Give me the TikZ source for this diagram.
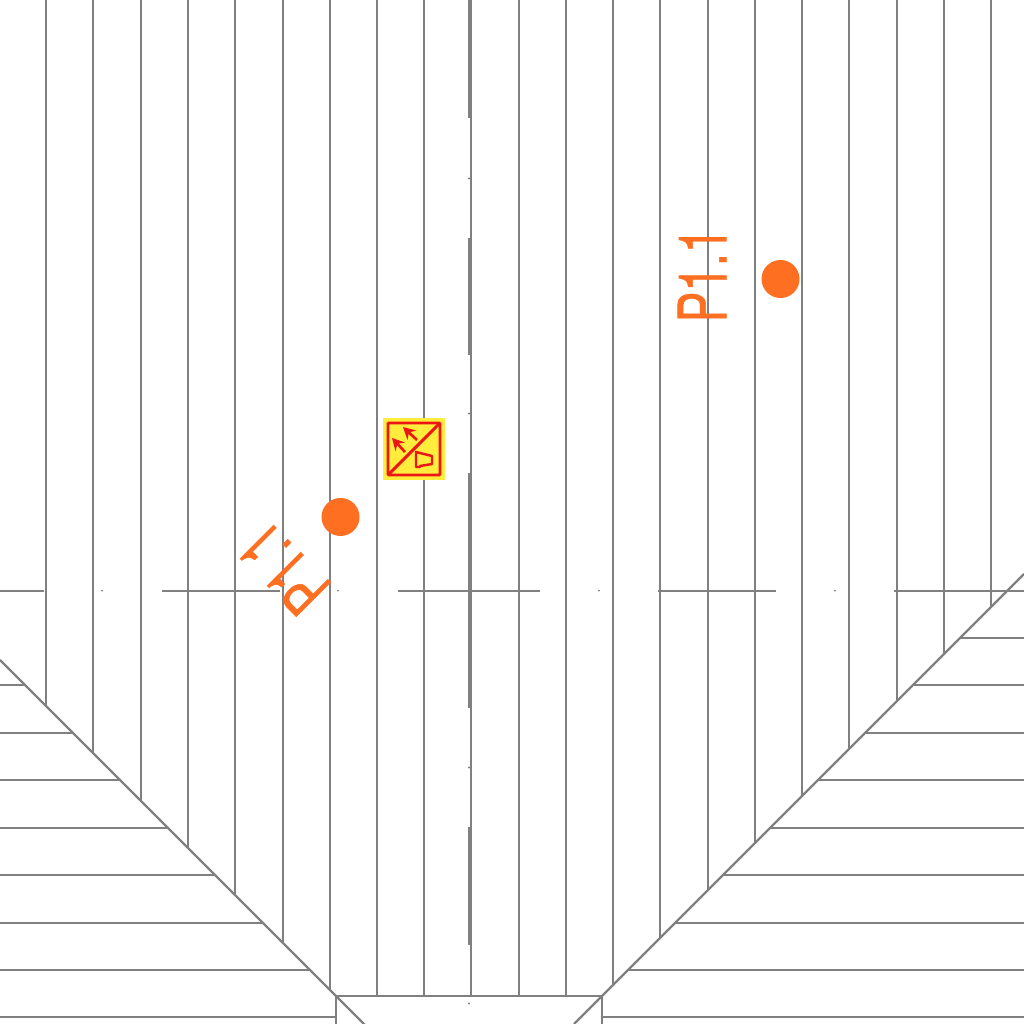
\documentclass[tikz,border=0pt]{standalone}
\usepackage{fontspec}
\setmainfont{TeX Gyre Heros}
\newfontfamily\pointfont[FakeBold=0.8]{TeX Gyre Heros}
\usetikzlibrary{arrows.meta}
\definecolor{wallgray}{HTML}{808080}
\definecolor{pointorange}{HTML}{FF6F21}
\definecolor{signyellow}{HTML}{FFEC3C}
\definecolor{signred}{HTML}{EC1616}
\tikzset{
  wall/.style={wallgray, line width=0.62pt},
  axisline/.style={wallgray, line width=0.5pt},
  centerline/.style={wallgray, line width=1.13pt},
  pointdot/.style={circle, fill=pointorange, minimum size=0.380cm, inner sep=0pt},
  pointlabel/.style={pointorange, inner sep=0pt, font=\fontsize{19}{19}\pointfont},
  signline/.style={signred, line width=0.85pt},
  signarrow/.style={signred, line width=0.75pt, -{Stealth[length=3.4pt, width=3.6pt]}}
}
\newcommand{\pointname}{\scalebox{0.69}[1]{P1.1}}
\begin{document}
\begin{tikzpicture}
\useasboundingbox (0,0) rectangle (10.240,10.240);
\begin{scope}[shift={(0.000,0.000)}]
% boards, middle part
\draw[wall] (0.460,10.240) -- (0.460,3.180);
\draw[wall] (0.930,10.240) -- (0.930,2.710);
\draw[wall] (1.410,10.240) -- (1.410,2.230);
\draw[wall] (1.880,10.240) -- (1.880,1.760);
\draw[wall] (2.350,10.240) -- (2.350,1.290);
\draw[wall] (2.830,10.240) -- (2.830,0.810);
\draw[wall] (3.300,10.240) -- (3.300,0.340);
\draw[wall] (3.770,10.240) -- (3.770,0.280);
\draw[wall] (4.240,10.240) -- (4.240,0.280);
\draw[wall] (4.710,10.240) -- (4.710,0.280);
\draw[wall] (5.190,10.240) -- (5.190,0.280);
\draw[wall] (5.660,10.240) -- (5.660,0.280);
\draw[wall] (6.130,10.240) -- (6.130,0.390);
\draw[wall] (6.600,10.240) -- (6.600,0.860);
\draw[wall] (7.080,10.240) -- (7.080,1.340);
\draw[wall] (7.550,10.240) -- (7.550,1.810);
\draw[wall] (8.020,10.240) -- (8.020,2.280);
\draw[wall] (8.490,10.240) -- (8.490,2.750);
\draw[wall] (8.970,10.240) -- (8.970,3.230);
\draw[wall] (9.440,10.240) -- (9.440,3.700);
\draw[wall] (9.910,10.240) -- (9.910,4.170);
% boards, left part
\draw[wall] (0,3.390) -- (0.250,3.390);
\draw[wall] (0,2.910) -- (0.720,2.910);
\draw[wall] (0,2.440) -- (1.200,2.440);
\draw[wall] (0,1.960) -- (1.670,1.960);
\draw[wall] (0,1.490) -- (2.150,1.490);
\draw[wall] (0,1.010) -- (2.620,1.010);
\draw[wall] (0,0.540) -- (3.100,0.540);
\draw[wall] (0,0.070) -- (3.360,0.070);
% boards, right part
\draw[wall] (10.240,3.860) -- (9.600,3.860);
\draw[wall] (10.240,3.390) -- (9.130,3.390);
\draw[wall] (10.240,2.910) -- (8.650,2.910);
\draw[wall] (10.240,2.440) -- (8.180,2.440);
\draw[wall] (10.240,1.960) -- (7.700,1.960);
\draw[wall] (10.240,1.490) -- (7.230,1.490);
\draw[wall] (10.240,1.010) -- (6.750,1.010);
\draw[wall] (10.240,0.540) -- (6.280,0.540);
\draw[wall] (10.240,0.070) -- (6.020,0.070);
% hips and bottom edge
\draw[wall] (0,3.640) -- (3.650,-0.010);
\draw[wall] (10.240,4.500) -- (5.740,0);
\draw[wall] (3.360,0.280) -- (6.020,0.280);
\draw[wall] (3.360,0.280) -- (3.360,0);
\draw[wall] (6.020,0.280) -- (6.020,0);
% axis, vertical
\draw[centerline] (4.700,10.240) -- (4.700,9.060);
\draw[centerline] (4.700,7.860) -- (4.700,6.690);
\draw[centerline] (4.700,5.510) -- (4.700,3.160);
\draw[centerline] (4.700,1.970) -- (4.700,0.790);
\fill[wallgray] (4.690,8.455) circle (0.012);
\fill[wallgray] (4.690,6.105) circle (0.012);
\fill[wallgray] (4.690,2.565) circle (0.012);
\fill[wallgray] (4.690,0.205) circle (0.012);
% axis, horizontal
\draw[axisline] (0,4.333) -- (0.440,4.333);
\draw[axisline] (1.620,4.333) -- (2.800,4.333);
\draw[axisline] (3.980,4.333) -- (5.400,4.333);
\draw[axisline] (6.580,4.333) -- (7.760,4.333);
\draw[axisline] (8.940,4.333) -- (10.240,4.333);
\fill[wallgray] (1.020,4.333) circle (0.010);
\fill[wallgray] (3.380,4.333) circle (0.010);
\fill[wallgray] (5.990,4.333) circle (0.010);
\fill[wallgray] (8.350,4.333) circle (0.010);
% points
\node[pointdot] (dotupper) at (7.805,7.450) {};
\node[pointdot] (dotlower) at (3.405,5.070) {};
\node[pointlabel, rotate=90] (labelupper) at (7.020,7.490) {\pointname};
\node[pointlabel, rotate=135] (labellower) at (2.830,4.550) {\pointname};
% sign
\fill[signyellow] (3.825,5.435) rectangle (4.450,6.060);
\draw[signline, rounded corners=0.3pt] (3.880,5.490) rectangle (4.400,6.010);
\draw[signline] (3.880,5.490) -- (4.400,6.010);
\draw[signarrow] (4.170,5.840) -- (4.030,5.970);
\draw[signarrow] (4.050,5.720) -- (3.920,5.860);
\draw[signred, line width=0.7pt, line join=round] (4.160,5.720) -- (4.200,5.710) -- (4.320,5.680) -- (4.320,5.600) -- (4.200,5.580) -- (4.200,5.570) -- (4.160,5.570) -- cycle;
\end{scope}
\end{tikzpicture}
\end{document}
